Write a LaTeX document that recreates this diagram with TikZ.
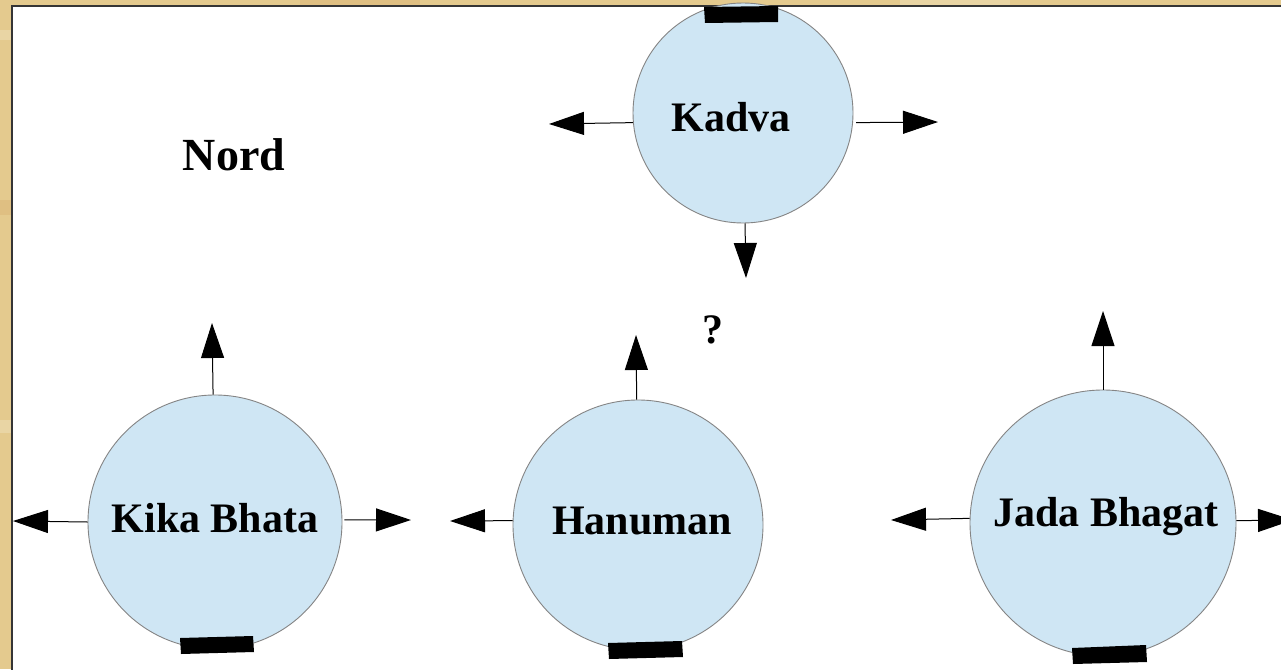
\documentclass[tikz,border=0pt]{standalone}
\usepackage{fontspec}
\setmainfont{Liberation Serif}
\usetikzlibrary{arrows.meta}
\definecolor{gold}{HTML}{E4CA8E}
\definecolor{roomfill}{HTML}{CFE6F4}
\definecolor{roomline}{HTML}{858585}
\definecolor{frameline}{HTML}{353535}
\tikzset{
  room/.style={circle, draw=roomline, fill=roomfill, line width=0.9pt, inner sep=0pt},
  lbl/.style={font=\fontsize{42}{48}\selectfont\bfseries, anchor=base, inner sep=0pt},
  arr/.style={line width=1pt, -{Triangle[length=35pt,width=23pt]}},
  door/.style={fill=black}
}
\begin{document}
\begin{tikzpicture}[x=1pt,y=-1pt]
\useasboundingbox (0,0) rectangle (1281,669);
% parchment frame
\fill[gold] (0,0) rectangle (1281,669);
\fill[gold!80!white] (0,30) rectangle (11,40);
\fill[gold!85!brown] (0,200) rectangle (11,215);
\fill[gold!80!white] (0,420) rectangle (11,433);
\fill[gold!85!brown] (300,0) rectangle (420,5);
\fill[gold!80!white] (900,0) rectangle (1010,5);
\draw[frameline, line width=2pt, fill=white] (12,6) rectangle (1290,680);

% rooms
\node[room, minimum size=220pt] (kadva) at (743,113) {};
\node[room, minimum size=254pt] (kika) at (215,522) {};
\node[room, minimum size=250pt] (hanu) at (638,525) {};
\node[room, minimum size=266pt] (jada) at (1103,523) {};

% doors
\fill[door] (704,7) -- (778,6) -- (778,22) -- (705,23) -- cycle;
\fill[door] (180,638) -- (253,636) -- (254,652) -- (181,654) -- cycle;
\fill[door] (608,643) -- (682,641) -- (683,657) -- (609,659) -- cycle;
\fill[door] (1072,648) -- (1146,645) -- (1147,662) -- (1073,664) -- cycle;

% labels
\node[lbl] (tkadva) at (731,131) {Kadva};
\node[lbl] (tkika) at (215,532) {Kika Bhata};
\node[lbl] (thanu) at (642,534) {Hanuman};
\node[lbl] (tjada) at (1106,526) {Jada Bhagat};
\node[lbl, font=\fontsize{46}{52}\selectfont\bfseries] (nord) at (234,170) {Nord};
\node[lbl] (q) at (713,343) {?};

% arrow ends
\coordinate (kadvaL) at (549,124);
\coordinate (kadvaR) at (938,122);
\coordinate (kadvaD) at (746,278);
\coordinate (kikaU) at (212,323);
\coordinate (kikaL) at (13,521);
\coordinate (kikaR) at (411,520);
\coordinate (hanuU) at (636,335);
\coordinate (hanuL) at (450,521);
\coordinate (jadaU) at (1103,311);
\coordinate (jadaL) at (891,520);
\coordinate (jadaR) at (1293,520);

% arrows
\draw[arr] (kadva.185) -- (kadvaL);
\draw[arr, shorten <=3pt] (kadva.-5) -- (kadvaR);
\draw[arr] (kadva) -- (kadvaD);
\draw[arr] (kika) -- (kikaU);
\draw[arr] (kika.180) -- (kikaL);
\draw[arr, shorten <=2pt] (kika.1) -- (kikaR);
\draw[arr] (hanu) -- (hanuU);
\draw[arr] (hanu.178) -- (hanuL);
\draw[arr] (jada) -- (jadaU);
\draw[arr] (jada.178) -- (jadaL);
\draw[arr] (jada.1) -- (jadaR);
\end{tikzpicture}
\end{document}
